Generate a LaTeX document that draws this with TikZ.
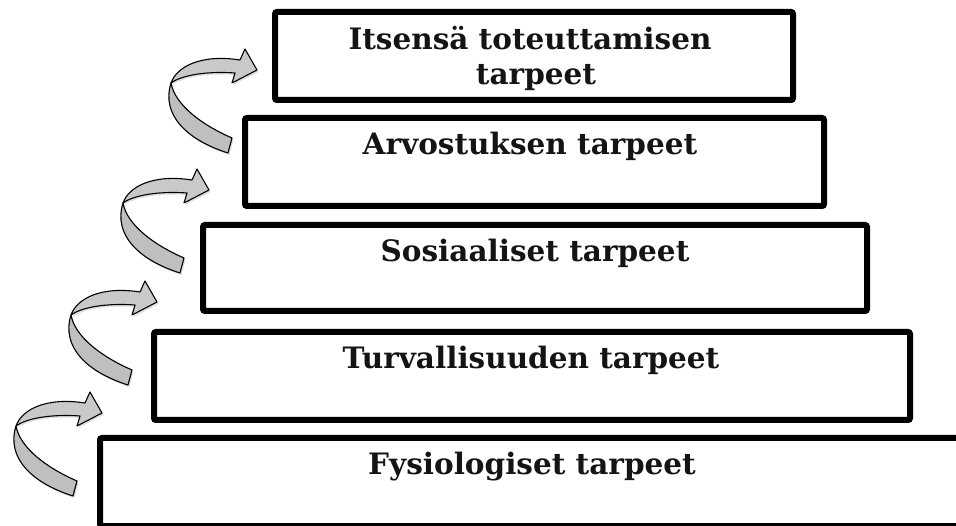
\documentclass[tikz,border=0pt]{standalone}
\usepackage{fontspec}
\setmainfont{DejaVu Serif}
\usetikzlibrary{shadows}
\begin{document}
\begin{tikzpicture}[x=1pt,y=-1pt,
  stepbox/.style={draw=black, line width=6pt, rounded corners=2pt, inner sep=0pt},
  lbl/.style={anchor=base, font=\fontsize{29.5}{35}\selectfont\bfseries, inner sep=0pt, text=black!92},
  ribbon/.style={draw=black, line width=1.1pt, fill=gray!50, line join=round,
    drop shadow={opacity=0.25, shadow xshift=1.5pt, shadow yshift=-2pt}},
  curlarrow/.pic={
    \draw[ribbon] (-86,13) .. controls (-96,45) and (-70,70) .. (-29,83)
      -- (-25,68) .. controls (-55,55) and (-82,35) .. (-86,13) -- cycle;
    \draw[ribbon, fill=gray!42] (-86,13) .. controls (-80,-4) and (-55,-16) .. (-17,-10)
      -- (-12,-21) -- (0,0) -- (-25,13) -- (-22,3)
      .. controls (-50,1) and (-75,5) .. (-86,13) -- cycle;
  }
]
\useasboundingbox (0,0) rectangle (956,526);
\clip (0,0) rectangle (956,526);

\node[stepbox, minimum width=518pt, minimum height=88pt] (b1) at (534,56) {};
\node[stepbox, minimum width=579pt, minimum height=88pt] (b2) at (534.5,162) {};
\node[stepbox, minimum width=664pt, minimum height=86pt] (b3) at (535,268) {};
\node[stepbox, minimum width=756pt, minimum height=88pt] (b4) at (532,376) {};
\node[stepbox, minimum width=900pt, minimum height=88pt] (b5) at (550,482) {};

\node[lbl] (t1a) at (530,50) {Itsensä toteuttamisen};
\node[lbl] (t1b) at (536,85) {tarpeet};
\node[lbl] (t2) at (530,155) {Arvostuksen tarpeet};
\node[lbl] (t3) at (535,262) {Sosiaaliset tarpeet};
\node[lbl] (t4) at (531,369) {Turvallisuuden tarpeet};
\node[lbl] (t5) at (532,475) {Fysiologiset tarpeet};

\pic at (257,70) {curlarrow};
\pic at (209,190) {curlarrow};
\pic at (157,302) {curlarrow};
\pic at (102,413) {curlarrow};
\end{tikzpicture}
\end{document}
